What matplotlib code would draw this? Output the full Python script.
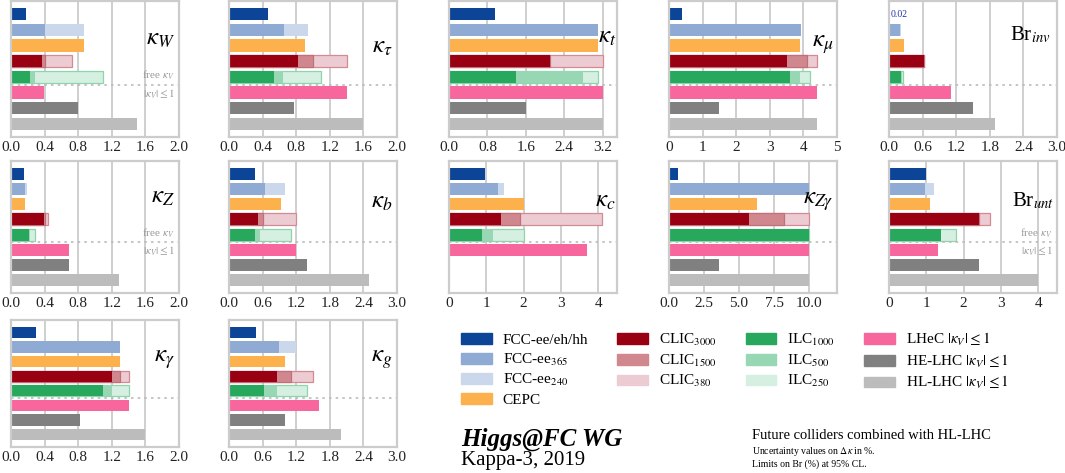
import numpy as np
import matplotlib
matplotlib.use("Agg")
import matplotlib.pyplot as plt
from matplotlib.patches import Patch

plt.rcParams['font.family'] = ['Liberation Serif', 'DejaVu Serif']
plt.rcParams['mathtext.fontset'] = 'stix'

nan = np.nan

# panel order: kW, ktau, kt, kmu, Br_inv, kZ, kb, kc, kZgamma, Br_unt, kgamma, kg
panel_names = [r'$\kappa_W$', r'$\kappa_\tau$', r'$\kappa_t$', r'$\kappa_\mu$', r'Br$_{inv}$',
               r'$\kappa_Z$', r'$\kappa_b$', r'$\kappa_c$', r'$\kappa_{Z\gamma}$', r'Br$_{unt}$',
               r'$\kappa_\gamma$', r'$\kappa_g$']

fcc_all  = [0.18, 0.46, 0.95, 0.40, 0.02, 0.15, 0.47, 0.96, 0.66, 1.00, 0.30, 0.49]
fcc365   = [0.40, 0.66, 3.10, 3.92, 0.19, 0.17, 0.64, 1.30, 10.0, 0.97, 1.30, 0.90]
fcc240   = [0.87, 0.94, 3.10, 3.92, 0.22, 0.19, 1.00, 1.48, 10.0, 1.20, 1.30, 1.20]
cepc     = [0.87, 0.91, 3.10, 3.90, 0.26, 0.17, 0.92, 2.00, 6.30, 1.10, 1.30, 1.00]
clic3000 = [0.37, 0.82, 2.10, 3.50, 0.62, 0.39, 0.52, 1.39, 5.70, 2.40, 1.20, 0.86]
clic1500 = [0.40, 1.00, 2.10, 4.10, 0.62, 0.40, 0.61, 1.89, 8.20, 2.40, 1.30, 1.10]
clic380  = [0.73, 1.40, 3.20, 4.40, 0.62, 0.44, 1.19, 4.10, 10.0, 2.70, 1.40, 1.50]
ilc1000  = [0.23, 0.54, 1.39, 3.60, 0.22, 0.22, 0.46, 0.89, 10.0, 1.40, 1.10, 0.63]
ilc500   = [0.28, 0.64, 2.80, 3.90, 0.23, 0.23, 0.55, 1.18, 10.0, 1.40, 1.20, 0.85]
ilc250   = [1.09, 1.10, 3.10, 4.20, 0.25, 0.28, 1.10, 2.00, 10.0, 1.80, 1.40, 1.40]
lhec     = [0.39, 1.40, 3.20, 4.40, 1.10, 0.69, 1.20, 3.69, 10.0, 1.30, 1.40, 1.60]
helhc    = [0.80, 0.77, 1.60, 1.48, 1.50, 0.69, 1.40, nan, 3.60, 2.40, 0.82, 1.00]
hllhc    = [1.50, 1.60, 3.20, 4.40, 1.90, 1.29, 2.50, nan, 10.0, 4.00, 1.60, 2.00]

xmax = [2.0, 2.0, 3.5, 5.0, 3.0, 2.0, 3.0, 4.5, 12.0, 4.5, 2.0, 3.0]
ticks = [[0, 0.4, 0.8, 1.2, 1.6, 2.0], [0, 0.4, 0.8, 1.2, 1.6, 2.0], [0, 0.8, 1.6, 2.4, 3.2],
         [0, 1, 2, 3, 4, 5], [0, 0.6, 1.2, 1.8, 2.4, 3.0], [0, 0.4, 0.8, 1.2, 1.6, 2.0],
         [0, 0.6, 1.2, 1.8, 2.4, 3.0], [0, 1, 2, 3, 4], [0, 2.5, 5, 7.5, 10],
         [0, 1, 2, 3, 4], [0, 0.4, 0.8, 1.2, 1.6, 2.0], [0, 0.6, 1.2, 1.8, 2.4, 3.0]]
tick_labels = [['0.0', '0.4', '0.8', '1.2', '1.6', '2.0'], ['0.0', '0.4', '0.8', '1.2', '1.6', '2.0'],
               ['0.0', '0.8', '1.6', '2.4', '3.2'], ['0', '1', '2', '3', '4', '5'],
               ['0.0', '0.6', '1.2', '1.8', '2.4', '3.0'], ['0.0', '0.4', '0.8', '1.2', '1.6', '2.0'],
               ['0.0', '0.6', '1.2', '1.8', '2.4', '3.0'], ['0', '1', '2', '3', '4'],
               ['0.0', '2.5', '5.0', '7.5', '10.0'], ['0', '1', '2', '3', '4'],
               ['0.0', '0.4', '0.8', '1.2', '1.6', '2.0'], ['0.0', '0.6', '1.2', '1.8', '2.4', '3.0']]

# colours
c_fcc = '#0c4597'
c_fcc365 = '#8fabd3'
c_fcc240 = '#cbd8ec'
c_cepc = '#fdb14d'
c_clic3000 = '#990011'
c_clic1500 = '#d1878e'
c_clic380 = '#ecccd2'
c_ilc1000 = '#28a85c'
c_ilc500 = '#97d7b3'
c_ilc250 = '#d5efe1'
c_lhec = '#f8669e'
c_helhc = '#808080'
c_hllhc = '#bcbcbc'

# layout in pixels
W, H = 1065, 473
col_left = [11, 229, 449, 669, 889]
col_w = 168
row_tb = [(1, 137), (161, 293), (320, 447)]
label_pos = [(0.975, 0.72), (0.975, 0.66), (0.995, 0.735), (0.98, 0.68), (0.965, 0.75),
             (0.975, 0.73), (0.975, 0.69), (0.99, 0.70), (0.98, 0.69), (0.98, 0.70),
             (0.975, 0.69), (0.975, 0.69)]

fig = plt.figure(figsize=(W / 100, H / 100), dpi=100)

bh = 0.78

def draw_bar(ax, y, v, color, edge=None):
    if v is None or np.isnan(v):
        return
    if edge is None:
        ax.barh(y, v, height=bh, color=color, linewidth=0)
    else:
        ax.barh(y, v, height=bh, color=color, edgecolor=edge, linewidth=0.9)

for i in range(12):
    r, c = divmod(i, 5)
    top, bot = row_tb[r]
    ax = fig.add_axes([col_left[c] / W, 1 - bot / H, col_w / W, (bot - top) / H])
    draw_bar(ax, 0, fcc_all[i], c_fcc)
    draw_bar(ax, 1, fcc240[i], c_fcc240)
    draw_bar(ax, 1, fcc365[i], c_fcc365)
    draw_bar(ax, 2, cepc[i], c_cepc)
    draw_bar(ax, 3, clic380[i], c_clic380, '#d48a92')
    draw_bar(ax, 3, clic1500[i], c_clic1500, '#c0707a')
    draw_bar(ax, 3, clic3000[i], c_clic3000)
    draw_bar(ax, 4, ilc250[i], c_ilc250, '#8fd5ab')
    draw_bar(ax, 4, ilc500[i], c_ilc500)
    draw_bar(ax, 4, ilc1000[i], c_ilc1000)
    draw_bar(ax, 5, lhec[i], c_lhec)
    draw_bar(ax, 6, helhc[i], c_helhc)
    draw_bar(ax, 7, hllhc[i], c_hllhc)

    ax.axhline(4.5, color='#bbbbbb', lw=1.2, ls=(0, (1.5, 2.5)))
    ax.set_xlim(0, xmax[i])
    ax.set_ylim(7.85, -0.85)
    ax.set_yticks([])
    ax.set_xticks(ticks[i])
    ax.set_xticklabels(tick_labels[i])
    ax.tick_params(axis='x', length=0, pad=3, labelsize=11, labelcolor='#222222')
    ax.xaxis.grid(True, color='#cccccc', lw=1.3)
    ax.set_axisbelow(True)
    for s in ax.spines.values():
        s.set_color('#cccccc')
        s.set_linewidth(1.6)

    lx, ly = label_pos[i]
    fs = 15 if 'Br' in panel_names[i] else 18
    ax.text(lx, ly, panel_names[i], transform=ax.transAxes, ha='right', va='center', fontsize=fs)

    if i in (0, 5, 9):
        ax.text(0.975, 3.92, r'free $\kappa_V$', ha='right', va='center', fontsize=8,
                color='#999999', transform=ax.get_yaxis_transform())
        ax.text(0.975, 5.12, r'$|\kappa_V| \leq 1$', ha='right', va='center', fontsize=8,
                color='#999999', transform=ax.get_yaxis_transform())
    if i == 4:
        ax.text(fcc_all[i] + 0.01, 0, '%.2f' % fcc_all[i], ha='left', va='center',
                fontsize=7, color='#2233aa')

# legend
handles = [Patch(color=c_fcc, label='FCC-ee/eh/hh'),
           Patch(color=c_fcc365, label=r'FCC-ee$_{365}$'),
           Patch(color=c_fcc240, label=r'FCC-ee$_{240}$'),
           Patch(color=c_cepc, label='CEPC'),
           Patch(color=c_clic3000, label=r'CLIC$_{3000}$'),
           Patch(color=c_clic1500, label=r'CLIC$_{1500}$'),
           Patch(color=c_clic380, label=r'CLIC$_{380}$'),
           Patch(color=c_ilc1000, label=r'ILC$_{1000}$'),
           Patch(color=c_ilc500, label=r'ILC$_{500}$'),
           Patch(color=c_ilc250, label=r'ILC$_{250}$'),
           Patch(color=c_lhec, label=r'LHeC $|\kappa_V| \leq 1$'),
           Patch(color=c_helhc, label=r'HE-LHC $|\kappa_V| \leq 1$'),
           Patch(color=c_hllhc, label=r'HL-LHC $|\kappa_V| \leq 1$')]
fig.legend(handles=handles, ncol=4, loc='upper left', bbox_to_anchor=(461 / W, 1 - 331 / H),
           frameon=False, fontsize=11, handlelength=2.0, handleheight=0.72,
           handletextpad=0.72, columnspacing=1.9, labelspacing=0.3,
           borderpad=0, borderaxespad=0)

fig.text(461 / W, 1 - 446 / H, 'Higgs@FC WG', fontsize=18, fontweight='bold', style='italic',
         ha='left', va='baseline')
fig.text(461 / W, 1 - 465 / H, 'Kappa-3, 2019', fontsize=15, ha='left', va='baseline')
fig.text(752 / W, 1 - 435 / H, 'Future colliders combined with HL-LHC', fontsize=10.5,
         ha='left', va='center')
fig.text(752 / W, 1 - 451 / H, r'Uncertainty values on $\Delta\kappa$ in %.', fontsize=7,
         ha='left', va='center')
fig.text(752 / W, 1 - 464 / H, 'Limits on Br (%) at 95% CL.', fontsize=7, ha='left', va='center')

fig.savefig('out.png', dpi=100)
